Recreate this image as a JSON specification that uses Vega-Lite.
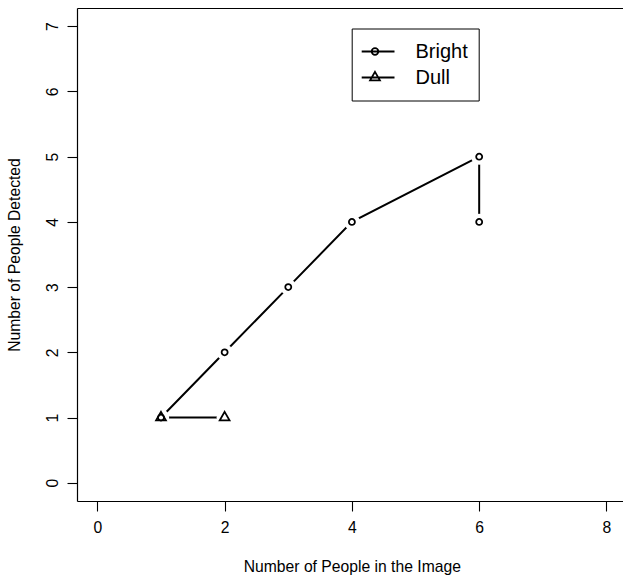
{
  "$schema": "https://vega.github.io/schema/vega-lite/v6.json",
  "width": 546,
  "height": 493,
  "autosize": {"type": "none"},
  "padding": {"left": 77, "top": 8, "right": 0, "bottom": 78},
  "background": "white",
  "config": {
    "view": {"stroke": null},
    "font": "Liberation Sans",
    "style": {"guide-label": {"fontSize": 15.7, "fill": "black", "font": "Liberation Sans"}},
    "axis": {"grid": false, "domainColor": "black", "domainWidth": 1.2, "tickColor": "black", "tickWidth": 1.1, "labelColor": "black", "titleColor": "black", "titleFontWeight": "normal", "labelFontSize": 15.7}
  },
  "data": {
    "values": [
      {"series": "Bright", "people": 1, "detected": 1, "ord": 1},
      {"series": "Bright", "people": 2, "detected": 2, "ord": 2},
      {"series": "Bright", "people": 3, "detected": 3, "ord": 3},
      {"series": "Bright", "people": 4, "detected": 4, "ord": 4},
      {"series": "Bright", "people": 6, "detected": 5, "ord": 5},
      {"series": "Bright", "people": 6, "detected": 4, "ord": 6},
      {"series": "Dull", "people": 1, "detected": 1, "ord": 1},
      {"series": "Dull", "people": 2, "detected": 1, "ord": 2}
    ]
  },
  "resolve": {"axis": {"x": "independent", "y": "independent"}},
  "layer": [
    {
      "mark": {"type": "line", "color": "black", "strokeWidth": 2},
      "encoding": {
        "x": {"field": "people", "type": "quantitative", "scale": {"domain": [-0.32, 8.26], "nice": false, "zero": false},
          "axis": {"orient": "bottom", "values": [0, 2, 4, 6, 8], "tickSize": 10, "labelFontSize": 15.7, "labelPadding": 9, "labelFlush": false, "labelOverlap": false,
            "title": "Number of People in the Image", "titleFontSize": 15.7, "titleX": 274.8, "titleY": 70, "titleBaseline": "alphabetic", "titleAlign": "center", "titleAnchor": null}},
        "y": {"field": "detected", "type": "quantitative", "scale": {"domain": [-0.28, 7.28], "nice": false, "zero": false},
          "axis": {"orient": "left", "values": [0, 1, 2, 3, 4, 5, 6, 7], "tickSize": 10, "labelFontSize": 15.7, "labelPadding": 9.4, "labelAngle": 270, "labelAlign": "center", "labelBaseline": "alphabetic", "labelFlush": false, "labelOverlap": false,
            "title": "Number of People Detected", "titleFontSize": 15.7, "titleAngle": 270, "titleX": -57.5, "titleY": 246.5, "titleBaseline": "alphabetic", "titleAlign": "center", "titleAnchor": null}},
        "detail": {"field": "series"},
        "order": {"field": "ord", "type": "quantitative"}
      }
    },
    {
      "mark": {"type": "point", "filled": true, "fill": "white", "stroke": null, "strokeWidth": 0, "opacity": 1, "size": 260, "shape": "circle"},
      "encoding": {
        "x": {"field": "people", "type": "quantitative",
          "axis": {"orient": "top", "domain": true, "ticks": false, "labels": false, "title": null}},
        "y": {"field": "detected", "type": "quantitative", "axis": null}
      }
    },
    {
      "transform": [{"filter": "datum.series === 'Bright'"}],
      "mark": {"type": "point", "filled": false, "stroke": "black", "strokeWidth": 1.8, "opacity": 1, "size": 128, "shape": "M0.53,0A0.53,0.53,0,1,1,-0.53,0A0.53,0.53,0,1,1,0.53,0Z"},
      "encoding": {
        "x": {"field": "people", "type": "quantitative", "axis": null},
        "y": {"field": "detected", "type": "quantitative", "axis": null}
      }
    },
    {
      "transform": [{"filter": "datum.series === 'Dull'"}],
      "mark": {"type": "point", "filled": false, "stroke": "black", "strokeWidth": 1.8, "opacity": 1, "size": 128, "shape": "M0,-1L0.866,0.5L-0.866,0.5Z"},
      "encoding": {
        "x": {"field": "people", "type": "quantitative", "axis": null},
        "y": {"field": "detected", "type": "quantitative", "axis": null}
      }
    },
    {
      "transform": [{"filter": "datum.series === 'none'"}],
      "mark": {"type": "point", "filled": false, "stroke": "black", "strokeWidth": 1.8, "opacity": 1},
      "encoding": {
        "x": {"field": "people", "type": "quantitative", "axis": null},
        "y": {"field": "detected", "type": "quantitative", "axis": null},
        "shape": {"field": "series", "type": "nominal",
          "scale": {"domain": ["Bright", "Dull"], "range": ["M-1,0L1,0M0.17,0A0.17,0.17,0,1,1,-0.17,0A0.17,0.17,0,1,1,0.17,0Z", "M-1,0L1,0M0,-0.29L0.251,0.145L-0.251,0.145Z"]},
          "legend": {
            "orient": "none", "legendX": 274.7, "legendY": 20.5, "title": null,
            "padding": 10, "rowPadding": 0, "clipHeight": 26,
            "strokeColor": "black", "fillColor": "white",
            "symbolSize": 1521, "symbolStrokeWidth": 1.8, "symbolStrokeColor": "black", "symbolFillColor": "transparent", "symbolOffset": -7.2,
            "labelFontSize": 20, "labelOffset": 20, "labelColor": "black", "labelFont": "Liberation Sans", "labelBaseline": "middle"
          }
        }
      }
    }
  ]
}
